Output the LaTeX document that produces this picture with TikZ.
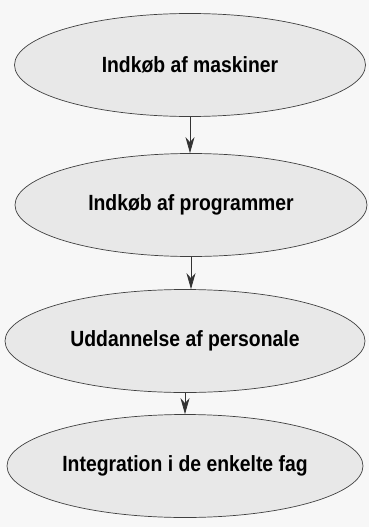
\documentclass[tikz,border=0pt]{standalone}
\usepackage{fontspec}
\setmainfont{Liberation Sans}[FakeStretch=0.88]
\usepackage{tikz}
\usetikzlibrary{shapes.geometric}
\usetikzlibrary{arrows.meta}

\begin{document}
\begin{tikzpicture}[x=1pt,y=-1pt,
  stage/.style={ellipse,draw=black!75,line width=0.7pt,fill=black!9,inner sep=0pt,
    minimum height=103pt,font=\fontsize{22}{26}\selectfont\bfseries},
  flow/.style={draw=black!80,line width=0.8pt,-{Stealth[length=16pt,width=9pt,inset=5pt]}}]
\fill[black!3] (0,0) rectangle (369,527);
\useasboundingbox (0,0) rectangle (369,527);
\node (maskiner) [stage,minimum width=351pt] at (190,65) {Indkøb af maskiner};
\node (programmer) [stage,minimum width=352pt] at (191,205) {Indkøb af programmer};
\node (personale) [stage,minimum width=360pt] at (185,341) {Uddannelse af personale};
\node (fag) [stage,minimum width=356pt] at (185,466) {Integration i de enkelte fag};
\draw[flow] (maskiner.south) -- (maskiner.south |- programmer.north);
\draw[flow] (programmer.south) -- (programmer.south |- personale.north);
\draw[flow] (personale.south) -- (personale.south |- fag.north);
\end{tikzpicture}
\end{document}
